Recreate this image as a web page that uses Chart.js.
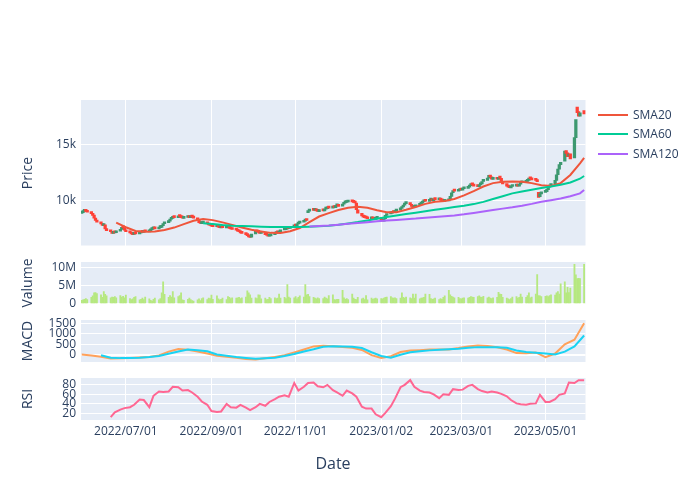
<!DOCTYPE html>
<html><head><meta charset="utf-8">
<script src="https://cdn.jsdelivr.net/npm/chart.js@4.4.1/dist/chart.umd.min.js"></script>
<style>
html,body{margin:0;padding:0;background:#fff;}
#wrap{position:relative;width:700px;height:500px;overflow:hidden;font-family:"Open Sans",sans-serif;color:#2a3f5f;}
canvas{position:absolute;left:0;}
.yt{position:absolute;font-size:14px;white-space:nowrap;transform:translate(-50%,-50%) rotate(-90deg);line-height:1;}
.xt{position:absolute;font-size:16px;white-space:nowrap;transform:translate(-50%,-50%);line-height:1;}
.lg{position:absolute;left:598px;width:30px;height:2px;}
.lt{position:absolute;left:633px;font-size:12px;line-height:1;transform:translateY(-50%);white-space:nowrap;}
</style></head><body><div id="wrap">
<canvas id="cPrice" width="700" height="186" style="top:80px"></canvas>
<canvas id="cVol" width="700" height="82" style="top:242px"></canvas>
<canvas id="cMacd" width="700" height="82" style="top:300px"></canvas>
<canvas id="cRsi" width="700" height="102" style="top:358px"></canvas>
<div class="yt" style="left:27px;top:172.75px">Price</div>
<div class="yt" style="left:27px;top:283px">Valume</div>
<div class="yt" style="left:27px;top:341px">MACD</div>
<div class="yt" style="left:27px;top:399px">RSI</div>
<div class="xt" style="left:333px;top:463px">Date</div>
<div class="lg" style="top:113.5px;background:#EF553B"></div><div class="lt" style="top:114.5px">SMA20</div>
<div class="lg" style="top:133px;background:#00CC96"></div><div class="lt" style="top:134px">SMA60</div>
<div class="lg" style="top:152.5px;background:#AB63FA"></div><div class="lt" style="top:153.5px">SMA120</div>
</div>
<script>
// ---------------- data ----------------
const firstTradingDay = '2022/05/30';
const tickLabels = ['2022/07/01','2022/09/01','2022/11/01','2023/01/02','2023/03/01','2023/05/01'];
const priceTicks = [10000, 15000];
const volumeTicks = [0, 5, 10];
const macdTicks = [0, 500, 1000, 1500];
const rsiTicks = [20, 40, 60, 80];

const openPx = [
8880,8950,9050,9120,9060, 8990,8860,8720,8460,8260, 8100,7960,7790,7860,7520, 7360,7260,7110,7210,7160,
7290,7460,7660,7600,7420, 7260,7160,7060,7010,7110, 7060,7140,7260,7190,7310, 7240,7340,7440,7510,7560,
7490,7610,7640,7790,7960, 8060,8190,8360,8440,8560, 8490,8660,8590,8510,8440, 8510,8560,8490,8610,8560,
8440,8310,8060,7970,8010, 8070,7960,7860,7790,7760, 7690,7710,7660,7590,7660, 7590,7640,7710,7560,7510,
7460,7410,7310,7260,7160, 7110,7010,6910,6810,6760, 7060,7290,7260,7210,7090, 7160,7010,6960,6860,6890,
6990,7090,7210,7140,7240, 7410,7440,7490,7610,7540, 7690,7810,7740,7940,8010, 8090,8190,8310,8950,9080,
9210,9140,9210,9110,9040, 9160,9090,9260,9290,9410, 9340,9460,9390,9540,9610, 9510,9690,9810,9840,9890,
9960,9910,9840,9780,9190, 8890,8660,8560,8490,8460, 8390,8460,8410,8340,8440, 8510,8310,8190,8410,8690,
8840,8890,9010,8940,9090, 9190,9310,9440,9610,9740, 9810,9660,9510,9390,9460, 9590,9710,9790,9910,10010,
9940,10060,10110,9990,10160, 10090,10110,10060,10010,9940, 9990,10110,10390,10710,10910, 10840,10910,11010,10940,11060,
11090,11210,11340,11460,11410, 11310,11240,11410,11490,11710, 11790,12010,12240,12110,11890, 11960,11890,12060,11990,11710,
11510,11310,11210,11140,11260, 11290,11360,11290,11460,11590, 11640,11710,11790,12010,11960, 11860,11810,10750,10350,10600,
10740,10810,10990,11210,11340, 11510,11790,12310,12790,13190, 13500,14450,14250,13950,14150, 13800,15600,18300,17900,17500,
18000];
const closePx = [
8950,9050,9100,9050,8980, 8850,8700,8450,8250,8100, 7950,7800,7850,7500,7350, 7250,7100,7200,7150,7300,
7450,7650,7600,7400,7250, 7150,7050,7000,7100,7050, 7150,7250,7200,7300,7250, 7350,7450,7500,7550,7500,
7600,7650,7800,7950,8050, 8200,8350,8450,8550,8500, 8650,8600,8500,8450,8500, 8550,8500,8600,8550,8450,
8300,8050,7980,8020,8060, 7950,7850,7800,7750,7700, 7700,7650,7600,7650,7600, 7650,7700,7550,7500,7450,
7400,7300,7250,7150,7100, 7000,6900,6800,6750,7050, 7300,7250,7200,7100,7150, 7000,6950,6850,6900,7000,
7100,7200,7150,7250,7400, 7450,7500,7600,7550,7700, 7800,7750,7950,8000,8100, 8200,8300,8250,9100,9200,
9150,9200,9100,9050,9150, 9100,9250,9300,9400,9350, 9450,9400,9550,9600,9500, 9700,9800,9850,9900,9950,
9900,9850,9800,9200,8900, 8650,8550,8500,8450,8400, 8450,8400,8350,8450,8500, 8300,8200,8400,8700,8850,
8900,9000,8950,9100,9200, 9300,9450,9600,9750,9800, 9650,9500,9400,9450,9600, 9700,9800,9900,10000,9950,
10050,10100,10000,10150,10100, 10100,10050,10000,9950,10000, 10100,10400,10700,10900,10850, 10900,11000,10950,11050,11100,
11200,11350,11450,11400,11300, 11250,11400,11500,11700,11800, 12000,12250,12100,11900,11950, 11900,12050,12000,11700,11500,
11300,11200,11150,11250,11300, 11350,11300,11450,11600,11650, 11700,11800,12000,11950,11850, 11800,11700,10300,10600,10750,
10800,11000,11200,11350,11500, 11800,12300,12800,13200,13400, 14400,14200,13900,14100,13700, 15600,17200,17800,17500,17800,
17700];
// volume in millions
const volumeM = [
1.0,1.1,1.3,1.5,1.2, 1.8,2.2,3.0,3.1,2.8, 2.5,1.8,3.4,2.6,2.2, 1.7,1.9,1.8,2.0,1.7,
2.3,1.9,2.1,1.7,2.4, 1.5,1.2,1.4,1.8,2.0, 1.1,1.3,1.6,1.2,1.9, 1.4,1.0,0.8,1.3,1.6,
1.1,1.5,3.0,6.0,2.6, 1.8,2.3,1.9,3.4,1.7, 2.0,2.3,3.0,1.1,1.0, 1.3,1.6,1.2,0.9,0.8,
1.1,1.4,0.9,1.5,1.7, 1.2,1.6,1.5,2.4,1.3, 2.2,1.4,1.1,1.3,1.6, 1.2,2.0,1.8,1.5,1.7,
1.6,1.7,1.8,1.5,1.7, 1.9,3.6,3.0,2.5,1.6, 1.7,1.5,2.5,2.4,1.4, 1.6,1.2,1.3,1.8,1.5,
1.7,1.5,1.6,2.7,1.6, 1.8,1.5,5.3,1.9,1.6, 1.7,2.0,1.4,1.8,2.2, 1.9,5.3,2.5,2.6,2.0,
1.8,1.6,1.4,1.7,1.5, 1.5,1.9,1.6,1.4,2.3, 2.5,1.2,1.1,1.3,1.3, 3.7,1.7,1.3,1.5,1.2,
2.7,1.6,1.3,1.2,1.8, 1.4,1.6,1.2,2.3,1.1, 1.6,1.3,1.5,1.6,1.4, 1.5,1.4,1.6,1.8,1.9,
2.0,1.7,1.6,1.7,1.5, 1.6,3.0,1.8,1.6,1.9, 1.7,1.5,2.7,1.6,2.7, 1.4,1.6,1.7,1.8,2.7,
2.6,1.5,1.3,1.4,1.6, 1.2,1.5,1.3,1.8,2.2, 3.7,2.5,2.1,1.9,1.7, 1.8,1.5,1.4,1.6,1.7,
1.6,1.8,2.0,1.9,1.8, 2.0,2.2,1.9,1.8,2.1, 1.7,1.9,1.6,1.5,1.7, 1.8,3.2,2.7,2.6,1.8,
1.6,1.4,1.2,1.5,1.9, 2.0,1.6,1.8,2.7,1.9, 1.8,2.3,3.0,1.7,1.9, 2.7,8.0,2.3,2.2,2.0,
2.1,2.2,2.0,2.3,2.5, 2.4,3.0,3.4,2.7,5.5, 6.0,3.0,4.5,3.1,4.3, 10.8,7.9,6.9,7.0,6.9,
10.8];
// moving averages, one value per week (Friday close), last value = final day
const sma20FromWeek = 3;
const sma20 = [8050,7650,7320,7250,7280,7400,7620,7930,8230,8380,8280,8080,7860,7630,7420,7280,7150,7130,7300,7580,
8100,8600,8900,9180,9380,9460,9370,9150,8980,8980,9200,9450,9720,9900,9980,10150,10470,10850,11260,11560,
11680,11700,11690,11560,11380,11300,11560,12280,13310,13800];
const sma60FromWeek = 12;
const sma60 = [8000,7930,7850,7790,7760,7730,7700,7680,7660,7660,7670,7700,7740,7790,7880,7990,8110,8250,8400,8560,
8690,8820,8940,9060,9190,9320,9450,9560,9700,9900,10150,10400,10650,10820,10980,11120,11260,11420,11620,11950,12190];
const sma120FromWeek = 23;
const sma120 = [7720,7760,7810,7880,7950,8030,8100,8170,8240,8300,8360,8420,8500,8560,8630,8700,8800,8920,9050,9170,
9300,9420,9560,9720,9900,10050,10200,10400,10650,10950];
// MACD, one value per week (Monday)
const macdFromWeek = 0;
const macd = [16,-40,-90,-180,-170,-150,-130,-105,-30,150,270,240,160,60,-50,-95,-140,-200,-230,-170,
-100,-20,110,250,400,425,410,375,330,230,-20,-155,-70,130,200,220,250,255,255,320,
400,440,415,360,250,80,75,110,-110,60,500,720,1500];
const signalFromWeek = 2;
const macdSignal = [-20,-140,-160,-155,-140,-110,-60,50,160,250,220,170,10,-50,-110,-150,-185,-170,-145,-60,
40,160,260,380,410,400,380,320,120,-60,-140,0,120,170,210,237,260,284,330,365,
365,360,330,200,130,100,60,10,150,400,920];
// RSI, two values per week (Monday, Thursday)
const rsiFromWeek = 3;
const rsi = [12,22, 28,31, 33,38, 49,48, 33,57, 66,65, 66,76, 75,68, 69,64, 55,45,
38,25, 23,24, 40,33, 32,38, 32,27, 33,40, 36,44, 50,55, 58,55, 84,68,
76,84, 85,77, 75,80, 69,64, 57,68, 62,55, 34,30, 30,18, 12,21, 35,51,
75,80, 90,76, 68,65, 64,60, 52,60, 59,71, 69,70, 78,80, 71,67, 64,66,
64,61, 56,48, 41,39, 38,40, 41,59, 44,44, 50,59, 62,85, 84,90, 90];

// ---------------- helpers ----------------
const MS = 864e5;
function dayNum(s){const p=s.split('/').map(Number);return (Date.UTC(p[0],p[1]-1,p[2])-Date.UTC(2022,6,1))/MS;}
const day0 = dayNum(firstTradingDay);
const lastIdx = closePx.length - 1;
function dayOf(i){return day0 + 7*Math.floor(i/5) + (i%5);}
const xMin = day0 - 0.5;
const xMax = dayOf(lastIdx) + 1;
const tickDays = tickLabels.map(dayNum);
function weekly(vals, fromWeek, dow){return vals.map((v,j)=>{const i=Math.min(5*(fromWeek+j)+dow,lastIdx);return {x:dayOf(i),y:v};});}
const rsiPts = rsi.map((v,j)=>{const i=Math.min(5*(rsiFromWeek+Math.floor(j/2))+(j%2?3:0),lastIdx);return {x:dayOf(i),y:v};});

const TXT = '#2a3f5f';
const FONT = {family:'"Open Sans", sans-serif', size:12};
const bgPlugin = {id:'bg', beforeDraw(c){const a=c.chartArea,x=c.ctx;x.save();x.fillStyle='#E5ECF6';x.fillRect(a.left,a.top,a.right-a.left,a.bottom-a.top);x.restore();}};

function xScale(showLabels, showGrid){
  return {type:'linear', min:xMin, max:xMax, offset:false,
    afterBuildTicks:s=>{s.ticks=tickDays.map(v=>({value:v}));},
    grid:{display:showGrid, offset:false, color:'#ffffff', lineWidth:1, drawTicks:false},
    border:{display:false},
    ticks:{display:showLabels, maxRotation:0, minRotation:0, autoSkip:false, padding:4, color:TXT, font:FONT,
      callback:(v,i)=>tickLabels[i]},
    afterFit:s=>{s.height = showLabels ? 30 : 0;}};
}
function yScale(min,max,vals,fmt,zeroBold){
  return {type:'linear', min, max,
    afterBuildTicks:s=>{s.ticks=vals.map(v=>({value:v}));},
    grid:{color:'#ffffff', drawTicks:false, lineWidth:c=>(zeroBold && c.tick && c.tick.value===0)?2:1},
    border:{display:false},
    ticks:{padding:5, autoSkip:false, color:TXT, font:FONT, callback:v=>fmt(v)},
    afterFit:s=>{s.width=81;}};
}
const common = {responsive:false, animation:false, devicePixelRatio:1,
  plugins:{legend:{display:false}, tooltip:{enabled:false}}};
function pad(top,bottom){return {padding:{left:0,right:114.5,top,bottom}};}

// ---------------- price ----------------
const candleData = closePx.map((c,i)=>({x:dayOf(i), y:[openPx[i], c]}));
const candleColors = closePx.map((c,i)=> c>=openPx[i] ? '#3D9970' : '#FF4136');
new Chart(document.getElementById('cPrice'), {
  type:'bar',
  data:{datasets:[
    {type:'line', label:'SMA120', data:weekly(sma120,sma120FromWeek,4), borderColor:'#AB63FA', borderWidth:2, pointRadius:0, tension:0, order:1},
    {type:'line', label:'SMA60', data:weekly(sma60,sma60FromWeek,4), borderColor:'#00CC96', borderWidth:2, pointRadius:0, tension:0, order:2},
    {type:'line', label:'SMA20', data:weekly(sma20,sma20FromWeek,4), borderColor:'#EF553B', borderWidth:2, pointRadius:0, tension:0, order:3},
    {type:'bar', label:'Price', data:candleData, backgroundColor:candleColors, barThickness:2.6, minBarLength:2, order:4}
  ]},
  options:Object.assign({}, common, {layout:pad(20,20.5),
    scales:{x:xScale(false,true), y:yScale(6030,18930,priceTicks,v=>(v/1000)+'k')}}),
  plugins:[bgPlugin]
});

// ---------------- volume ----------------
new Chart(document.getElementById('cVol'), {
  type:'bar',
  data:{datasets:[{label:'Valume', data:volumeM.map((v,i)=>({x:dayOf(i), y:v})), backgroundColor:'#B6E880', barThickness:1.2}]},
  options:Object.assign({}, common, {layout:pad(20,20),
    scales:{x:xScale(false,false), y:yScale(0,11.4,volumeTicks,v=>v===0?'0':v+'M',true)}}),
  plugins:[bgPlugin]
});

// ---------------- MACD ----------------
new Chart(document.getElementById('cMacd'), {
  type:'line',
  data:{datasets:[
    {label:'Signal', data:weekly(macdSignal,signalFromWeek,0), borderColor:'#19D3F3', borderWidth:2, pointRadius:0, tension:0, order:1},
    {label:'MACD', data:weekly(macd,macdFromWeek,0), borderColor:'#FFA15A', borderWidth:2, pointRadius:0, tension:0, order:2}
  ]},
  options:Object.assign({}, common, {layout:pad(20,20),
    scales:{x:xScale(false,true), y:yScale(-345,1660,macdTicks,v=>String(v),true)}}),
  plugins:[bgPlugin]
});

// ---------------- RSI ----------------
new Chart(document.getElementById('cRsi'), {
  type:'line',
  data:{datasets:[{label:'RSI', data:rsiPts, borderColor:'#FF6692', borderWidth:2, pointRadius:0, tension:0}]},
  options:Object.assign({}, common, {layout:pad(20,10),
    scales:{x:xScale(true,true), y:yScale(6,94.5,rsiTicks,v=>String(v))}}),
  plugins:[bgPlugin]
});
</script>
</body></html>
